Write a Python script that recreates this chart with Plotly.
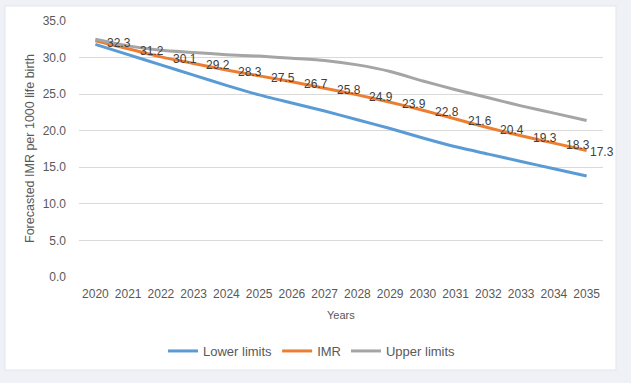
import plotly.graph_objects as go

years = [str(y) for y in range(2020, 2036)]
lower_limits = [31.8, 30.4, 29.0, 27.6, 26.2, 24.9, 23.8, 22.7, 21.5, 20.3, 19.0, 17.8, 16.8, 15.8, 14.8, 13.8]
imr = [32.3, 31.2, 30.1, 29.2, 28.3, 27.5, 26.7, 25.8, 24.9, 23.9, 22.8, 21.6, 20.4, 19.3, 18.3, 17.3]
upper_limits = [32.5, 31.6, 31.0, 30.7, 30.4, 30.2, 29.9, 29.6, 29.0, 28.1, 26.8, 25.6, 24.5, 23.4, 22.4, 21.4]
y_ticks = [0, 5, 10, 15, 20, 25, 30, 35]

FONT = "Liberation Sans, Arial, sans-serif"
TXT = "#595959"
PAGE_BG = "#EFF1F6"

fig = go.Figure()
fig.add_trace(go.Scatter(x=years, y=lower_limits, name="Lower limits", mode="lines",
                         line=dict(color="#5B9BD5", width=3, shape="spline", smoothing=0.6)))
fig.add_trace(go.Scatter(x=years, y=imr, name="IMR", mode="lines",
                         line=dict(color="#ED7D31", width=3, shape="spline", smoothing=0.6)))
fig.add_trace(go.Scatter(x=years, y=upper_limits, name="Upper limits", mode="lines",
                         line=dict(color="#A5A5A5", width=3, shape="spline", smoothing=0.6)))

L, R, T, B = 79, 28, 21, 106
W, H = 631, 383
pw = W - L - R
ph = H - T - B

def px_x(x):
    return (x - L) / pw

def px_y(y):
    return (H - B - y) / ph

annotations = []
# data labels for the IMR series (x as category index on the category axis)
for i, v in enumerate(imr):
    last = i == len(imr) - 1
    annotations.append(dict(x=i, y=v, xref="x", yref="y", text=f"{v:.1f}", showarrow=False,
                            xanchor="left", yanchor="middle", xshift=1 if last else 10, yshift=-2,
                            font=dict(color="#404040", size=12, family=FONT)))

annotations.append(dict(text="Years", xref="paper", yref="paper", x=px_x(341), y=px_y(315),
                        xanchor="center", yanchor="middle", showarrow=False,
                        font=dict(size=11, color=TXT, family=FONT)))
annotations.append(dict(text="Forecasted IMR per 1000 life birth", xref="paper", yref="paper",
                        x=px_x(30), y=px_y(149), xanchor="center", yanchor="middle", textangle=-90,
                        showarrow=False, font=dict(size=12.5, color=TXT, family=FONT)))

fig.add_shape(type="rect", xref="paper", yref="paper",
              x0=px_x(5), x1=px_x(616), y0=px_y(370), y1=px_y(6),
              fillcolor="white", line=dict(color="#E3E5EA", width=1), layer="below")

fig.update_layout(
    width=W, height=H,
    margin=dict(l=L, r=R, t=T, b=B, autoexpand=False),
    paper_bgcolor=PAGE_BG,
    plot_bgcolor="rgba(0,0,0,0)",
    font=dict(family=FONT, size=12, color=TXT),
    showlegend=True,
    annotations=annotations,
    legend=dict(orientation="h", x=px_x(312), xanchor="center", y=px_y(351), yanchor="middle",
                font=dict(size=13, color=TXT), bgcolor="rgba(0,0,0,0)", itemwidth=30),
    xaxis=dict(type="category", range=[-0.5, len(years) - 0.5], showgrid=False, zeroline=False,
               showline=False, automargin=False,
               ticks="", tickfont=dict(size=12, color=TXT), ticklabelstandoff=8),
    yaxis=dict(range=[0, 35], tickvals=y_ticks, tickformat=".1f", showgrid=True, automargin=False,
               gridcolor="#D9D9D9", gridwidth=1, zeroline=False, showline=False,
               ticks="", tickfont=dict(size=12, color=TXT), ticklabelstandoff=12),
)

fig.write_html("out.html", config={"displayModeBar": False},
               post_script="document.body.style.margin='0';document.body.style.background='%s';" % PAGE_BG)
